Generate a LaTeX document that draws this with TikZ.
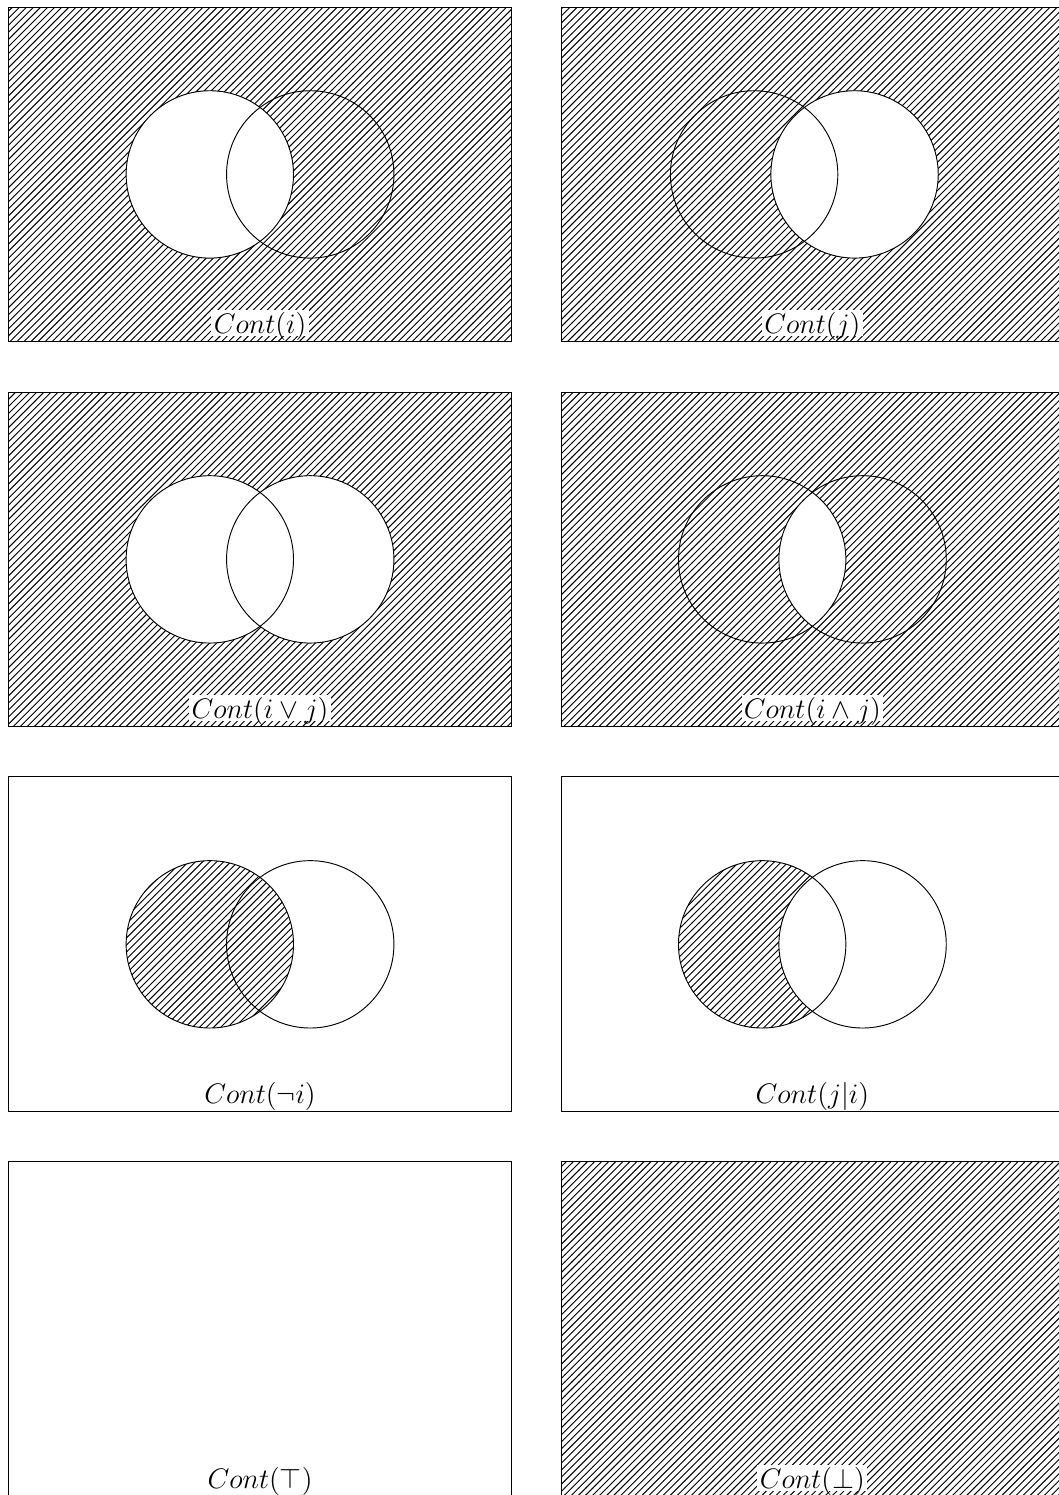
\documentclass[tikz,border=0pt,12pt]{standalone}
\usepackage{amsmath,amssymb}
\usetikzlibrary{patterns}
\newcommand{\circI}{(3,2.5) circle (1.25)}
\newcommand{\circJ}{(4.5,2.5) circle (1.25)}
\newcommand{\panelbox}{(0,0) rectangle (7.5,5)}
\tikzset{
  hatch/.style={pattern=north east lines},
  contlabel/.style={fill=white, inner sep=1pt, text depth=0pt, anchor=base},
}
\begin{document}
\begin{tikzpicture}
  \useasboundingbox (-0.134,-17.225) rectangle (15.669,5.105);

  % Cont(i)
  \begin{scope}
    \fill[hatch, even odd rule] \panelbox \circI;
    \draw \panelbox;
    \draw \circI;
    \draw \circJ;
    \node[contlabel] (lblI) at (3.75,0.12) {$Cont(i)$};
  \end{scope}

  % Cont(j)
  \begin{scope}[xshift=8.25cm]
    \fill[hatch] \panelbox;
    \draw \panelbox;
    \begin{scope}[xshift=-0.12cm]
      \fill[white] \circJ;
      \draw \circI;
      \draw \circJ;
    \end{scope}
    \node[contlabel] (lblJ) at (3.75,0.12) {$Cont(j)$};
  \end{scope}

  % Cont(i or j)
  \begin{scope}[yshift=-5.75cm]
    \fill[hatch] \panelbox;
    \fill[white] \circI;
    \fill[white] \circJ;
    \draw \panelbox;
    \draw \circI;
    \draw \circJ;
    \node[contlabel] (lblOr) at (3.75,0.12) {$Cont(i \vee j)$};
  \end{scope}

  % Cont(i and j)
  \begin{scope}[xshift=8.25cm, yshift=-5.75cm]
    \fill[hatch] \panelbox;
    \begin{scope}
      \clip \circI;
      \fill[white] \circJ;
    \end{scope}
    \draw \panelbox;
    \draw \circI;
    \draw \circJ;
    \node[contlabel] (lblAnd) at (3.75,0.12) {$Cont(i \wedge j)$};
  \end{scope}

  % Cont(not i)
  \begin{scope}[yshift=-11.5cm]
    \draw \panelbox;
    \fill[hatch] \circI;
    \draw \circI;
    \draw \circJ;
    \node[contlabel] (lblNot) at (3.75,0.12) {$Cont(\neg i)$};
  \end{scope}

  % Cont(j|i)
  \begin{scope}[xshift=8.25cm, yshift=-11.5cm]
    \draw \panelbox;
    \begin{scope}
      \clip \circI;
      \fill[hatch, even odd rule] \circI \circJ;
    \end{scope}
    \draw \circI;
    \draw \circJ;
    \node[contlabel] (lblCond) at (3.75,0.12) {$Cont(j|i)$};
  \end{scope}

  % Cont(top)
  \begin{scope}[yshift=-17.25cm]
    \draw \panelbox;
    \node[contlabel] (lblTop) at (3.75,0.12) {$Cont(\top)$};
  \end{scope}

  % Cont(bot)
  \begin{scope}[xshift=8.25cm, yshift=-17.25cm]
    \fill[hatch] \panelbox;
    \draw \panelbox;
    \node[contlabel] (lblBot) at (3.75,0.12) {$Cont(\bot)$};
  \end{scope}
\end{tikzpicture}
\end{document}
